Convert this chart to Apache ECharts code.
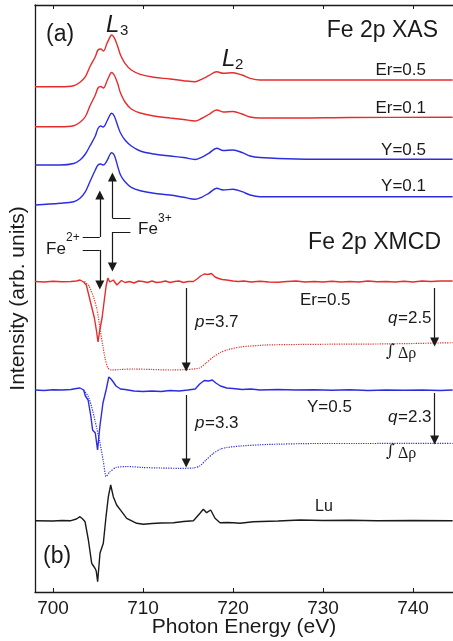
<!DOCTYPE html>
<html>
<head>
<meta charset="utf-8">
<title>Fe 2p XAS / XMCD</title>
<script src="https://cdn.jsdelivr.net/npm/echarts@6/dist/echarts.min.js"></script>
<style>
  html, body { margin: 0; padding: 0; background: #fff; }
</style>
</head>
<body>
<div id="main" style="width:453px;height:641px;"></div>
<script type="text/javascript">
// x tick labels (eV)
var ticks = [700, 710, 720, 730, 740];

// XAS spectra, all on the same energy grid (arb. units, offset for clarity)
var xasE    = [698, 700.8, 702.3, 703.0, 703.6, 704.1, 704.7, 705.0, 705.3, 705.6, 706.0, 706.3, 706.5, 706.8,
               707.2, 707.5, 708.0, 708.7, 709.7, 711.2, 713.0, 714.5, 715.8, 716.5, 717.3, 718.2, 718.9,
               720.0, 721.0, 721.9, 723.0, 727, 733, 744.4];
var xasEr05 = [50.53, 50.53, 50.63, 50.97, 51.53, 52.53, 53.53, 54.2, 54.3, 54.1, 54.87, 55.43, 55.7, 55.43,
               54.53, 53.7, 52.87, 52.2, 51.77, 51.47, 51.3, 51.13, 51.03, 51.27, 51.63, 52.03, 51.87,
               51.93, 51.7, 51.37, 51.2, 51.2, 51.2, 51.2];
var xasEr01 = [46.53, 46.53, 46.63, 46.97, 47.55, 48.6, 49.7, 50.4, 50.55, 50.4, 51.1, 51.7, 51.95, 51.7,
               50.8, 49.9, 49.0, 48.3, 47.9, 47.6, 47.4, 47.25, 47.1, 47.35, 47.75, 48.2, 48.0,
               48.05, 47.8, 47.5, 47.4, 47.4, 47.45, 47.47];
var xasY05  = [42.7, 42.7, 42.85, 43.2, 43.8, 44.6, 45.6, 46.35, 46.6, 46.5, 47.1, 47.65, 47.87, 47.6,
               46.6, 45.9, 45.2, 44.6, 44.1, 43.8, 43.6, 43.45, 43.25, 43.47, 43.87, 44.37, 44.15,
               44.2, 43.95, 43.6, 43.45, 43.3, 43.27, 43.27];
var xasY01  = [38.7, 38.87, 39.03, 39.37, 40.03, 41.03, 42.2, 42.7, 42.8, 42.7, 43.13, 43.7, 43.93, 43.7,
               42.53, 41.7, 41.03, 40.47, 40.13, 39.87, 39.7, 39.47, 39.27, 39.47, 39.87, 40.37, 40.2,
               40.27, 40.03, 39.7, 39.53, 39.53, 39.53, 39.53];

// XMCD Er=0.5 [eV, intensity]
var mcdEr = [[698,31.05],[699,31.0],[700,31.08],[701,31.02],[702,31.05],[702.6,31.1],[703.0,31.2],[703.4,31.0],
  [703.7,30.7],[704.0,29.6],[704.3,28.5],[704.6,27.4],[704.85,26.0],[705.0,25.0],[705.2,26.2],[705.45,27.4],
  [705.7,29.2],[705.9,30.6],[706.1,31.4],[706.3,31.0],[706.5,30.8],[706.7,31.2],[706.9,31.3],[707.1,30.7],
  [707.3,30.9],[707.6,31.15],[708,30.95],[708.5,31.05],[709,30.9],[709.5,31.1],[710,31.05],[710.5,30.95],
  [711,31.1],[711.5,30.95],[712,31.0],[712.5,31.1],[713,30.95],[713.5,31.05],[714,31.1],[714.5,30.95],
  [715,31.05],[715.6,31.05],[716.0,31.3],[716.4,31.6],[716.8,31.8],[717.2,31.75],[717.6,31.85],[718.0,31.5],
  [718.4,31.35],[718.8,31.25],[719.3,31.2],[720,31.1],[720.6,31.05],[721.2,31.1],[722,31.0],[723,31.08],
  [724,31.0],[725,30.98],[726,31.05],[727,31.1],[728,31.0],[729,31.05],[730,31.0],[731,31.08],[732,31.0],
  [733,31.05],[734,31.0],[735,31.1],[736,31.02],[737,31.05],[738,31.0],[739,31.08],[740,31.0],[741,31.1],
  [742,31.05],[743,31.1],[744.4,31.1]];
// integrated XMCD Er=0.5
var intEr = [[703.5,31.05],[704.0,30.6],[704.5,29.5],[704.9,28.2],[705.2,26.5],[705.5,24.8],[705.8,23.3],
  [706.1,22.4],[706.5,22.2],[707.5,22.25],[709,22.3],[711,22.25],[713,22.2],[715,22.25],[716.3,22.4],
  [717.0,22.9],[717.8,23.5],[718.6,23.95],[719.3,24.2],[720.8,24.5],[723.7,24.7],[727,24.75],[731,24.78],
  [736,24.8],[740,24.85],[744.4,24.93]];

// XMCD Y=0.5
var mcdY = [[698,20.2],[699,20.15],[700,20.22],[701,20.2],[702,20.25],[702.6,20.35],[703.0,20.4],[703.4,20.2],
  [703.6,19.6],[703.9,19.2],[704.2,17.6],[704.4,16.2],[704.7,15.9],[704.95,14.2],[705.2,16.5],[705.55,18.9],
  [705.9,20.2],[706.2,21.5],[706.45,21.3],[706.7,21.0],[707.0,20.6],[707.5,20.3],[708,20.25],[709,20.1],
  [710,20.05],[711,20.1],[712,20.05],[713,20.15],[714,20.1],[715,20.2],[715.8,20.3],[716.3,20.8],
  [716.8,21.15],[717.3,21.1],[717.7,21.2],[718.1,20.9],[718.6,20.6],[719.3,20.4],[720,20.35],[721,20.25],
  [722,20.3],[723,20.2],[725,20.25],[727,20.2],[729,20.22],[731,20.18],[733,20.22],[735,20.15],[737,20.2],
  [739,20.18],[741,20.2],[743,20.15],[744.4,20.2]];
// integrated XMCD Y=0.5
var intY = [[703.4,20.2],[703.9,19.6],[704.3,18.5],[704.7,17.0],[705.2,15.0],[705.6,13.0],[705.9,11.55],
  [706.3,12.0],[707.0,12.45],[708.2,12.55],[710,12.45],[712,12.4],[714,12.37],[715.6,12.4],[716.3,12.6],
  [717,13.2],[717.8,13.85],[718.6,14.3],[719.3,14.45],[720.8,14.6],[723.7,14.75],[729,14.85],[735,14.85],
  [740,14.87],[744.4,14.87]];

// Lu reference XMCD
var mcdLu = [[698,7.13],[700,7.1],[701,7.15],[702,7.13],[702.6,7.3],[703.0,7.53],[703.3,7.3],[703.56,7.03],
  [703.93,5.2],[704.3,2.87],[704.5,2.6],[704.67,2.37],[704.8,2.1],[704.96,1.03],[705.22,3.87],[705.59,4.87],
  [705.89,7.53],[706.15,9.53],[706.41,10.7],[706.7,9.53],[707.07,8.7],[707.63,8.03],[708.19,7.37],[709.3,6.87],
  [710.04,6.77],[711,6.85],[712,6.9],[713.37,6.93],[714.5,7.05],[715.6,7.13],[716.33,7.87],[716.7,8.27],
  [717.07,7.93],[717.52,8.2],[718.0,7.37],[718.56,6.93],[719.3,6.95],[720.04,6.93],[720.78,6.87],[721.5,6.95],
  [722.26,7.03],[725,7.1],[727.44,7.2],[730,7.15],[733,7.18],[736,7.12],[740,7.15],[744.4,7.13]];

// annotation arrows [from, to] in data coords
var arrows = [
  [[705.2, 35.5], [705.2, 39.7]],   // Fe2+ up
  [[705.2, 34.2], [705.2, 30.7]],   // Fe2+ down
  [[706.6, 37.4], [706.6, 41.5]],   // Fe3+ up
  [[706.6, 36.0], [706.6, 32.5]],   // Fe3+ down
  [[714.8, 30.4], [714.8, 22.5]],   // p Er
  [[714.8, 19.7], [714.8, 12.9]],   // p Y
  [[742.4, 30.4], [742.4, 25.0]],   // q Er
  [[742.4, 19.9], [742.4, 15.2]]    // q Y
];
var brackets = [
  [[703.3, 35.5], [705.2, 35.5]],
  [[703.3, 34.2], [705.2, 34.2]],
  [[708.6, 37.4], [706.6, 37.4]],
  [[708.6, 36.0], [706.6, 36.0]]
];

var RED = '#e52d2d', BLUE = '#2c2ce0', BLK = '#1a1a1a';
var FONT = "'Liberation Sans', Arial, sans-serif";

function zip(xs, ys) {
  return xs.map(function (x, i) { return [x, ys[i]]; });
}
function curve(data, color, dotted, smooth) {
  return {
    type: 'line', data: data, showSymbol: false, symbol: 'none',
    smooth: smooth || (dotted ? 0.2 : false),
    lineStyle: { color: color, width: dotted ? 1.2 : 1.4, type: dotted ? 'dotted' : 'solid' },
    z: 3
  };
}
function label(txt, x, y, size, align, italic, family) {
  return {
    type: 'text', x: x, y: y, z: 10,
    style: {
      text: txt, fill: BLK,
      font: (italic ? 'italic ' : '') + size + 'px ' + (family || FONT),
      align: align || 'left', verticalAlign: 'middle'
    }
  };
}

var myChart = echarts.init(document.getElementById('main'), null, { renderer: 'canvas' });

var option = {
  animation: false,
  backgroundColor: '#fff',
  grid: { left: 35, right: 0, top: 5, bottom: 49, outerBoundsMode: 'none' },
  xAxis: [{
    type: 'value', position: 'bottom', min: 698, max: 744.44,
    name: 'Photon Energy (eV)', nameLocation: 'middle', nameGap: 25, nameMoveOverlap: false,
    nameTextStyle: { fontSize: 21, fontFamily: FONT, color: BLK },
    axisLine: { show: true, onZero: false, lineStyle: { color: BLK, width: 1.3 } },
    axisTick: { show: true, inside: true, length: 4, customValues: ticks, lineStyle: { color: BLK } },
    axisLabel: { show: true, customValues: ticks, fontSize: 19, fontFamily: FONT, color: BLK, margin: 7 },
    splitLine: { show: false }
  }, {
    type: 'value', position: 'top', min: 698, max: 744.44,
    axisLine: { show: true, onZero: false, lineStyle: { color: BLK, width: 1.3 } },
    axisTick: { show: true, inside: true, length: 4, customValues: ticks, lineStyle: { color: BLK } },
    axisLabel: { show: false },
    splitLine: { show: false }
  }],
  yAxis: {
    type: 'value', min: 0, max: 58.7,
    name: 'Intensity (arb. units)', nameLocation: 'middle', nameGap: 6, nameMoveOverlap: false,
    nameTextStyle: { fontSize: 21, fontFamily: FONT, color: BLK },
    axisLine: { show: true, onZero: false, lineStyle: { color: BLK, width: 1.3 } },
    axisTick: { show: false },
    axisLabel: { show: false },
    splitLine: { show: false }
  },
  series: [
    curve(zip(xasE, xasEr05), RED, false, 0.35),
    curve(zip(xasE, xasEr01), RED, false, 0.35),
    curve(zip(xasE, xasY05), BLUE, false, 0.35),
    curve(zip(xasE, xasY01), BLUE, false, 0.35),
    curve(mcdEr, RED),
    curve(intEr, RED, true),
    curve(mcdY, BLUE),
    curve(intY, BLUE, true),
    curve(mcdLu, BLK),
    {
      type: 'lines', coordinateSystem: 'cartesian2d', z: 5,
      symbol: ['none', 'triangle'], symbolSize: [1, 9],
      lineStyle: { color: BLK, width: 1.2, opacity: 1 },
      data: arrows.map(function (a) { return { coords: a }; })
    },
    {
      type: 'lines', coordinateSystem: 'cartesian2d', z: 5,
      symbol: 'none',
      lineStyle: { color: BLK, width: 1.2, opacity: 1 },
      data: brackets.map(function (a) { return { coords: a }; })
    }
  ],
  graphic: [
    label('(a)', 46, 35, 23),
    label('L', 106, 25, 24, 'left', true),
    label('3', 120, 31, 15),
    label('L', 222, 59, 24, 'left', true),
    label('2', 235, 65, 15),
    label('Fe 2p XAS', 438, 31, 23, 'right'),
    label('Er=0.5', 426, 70, 17, 'right'),
    label('Er=0.1', 426, 108, 17, 'right'),
    label('Y=0.5', 426, 150, 17, 'right'),
    label('Y=0.1', 426, 186, 17, 'right'),
    label('Fe', 46, 249, 17),
    label('2+', 66, 238, 12),
    label('Fe', 138, 229, 17),
    label('3+', 158, 219, 12),
    label('Fe 2p XMCD', 441, 243, 23, 'right'),
    label('Er=0.5', 300, 300, 17),
    label('p', 195, 322, 17, 'left', true),
    label('=3.7', 205, 322, 17),
    label('q', 388, 318, 17, 'left', true),
    label('=2.5', 398, 318, 17),
    label('∫', 386, 352, 17, 'left', false, "'DejaVu Serif', serif"),
    label('Δρ', 398, 354, 16, 'left', false, "'Liberation Serif', serif"),
    label('Y=0.5', 307, 407, 17),
    label('q', 388, 417, 17, 'left', true),
    label('=2.3', 398, 417, 17),
    label('p', 195, 423, 17, 'left', true),
    label('=3.3', 205, 423, 17),
    label('∫', 386, 452, 17, 'left', false, "'DejaVu Serif', serif"),
    label('Δρ', 398, 454, 16, 'left', false, "'Liberation Serif', serif"),
    label('Lu', 315, 507, 16),
    label('(b)', 43, 557, 23)
  ]
};
myChart.setOption(option);
</script>
</body>
</html>
